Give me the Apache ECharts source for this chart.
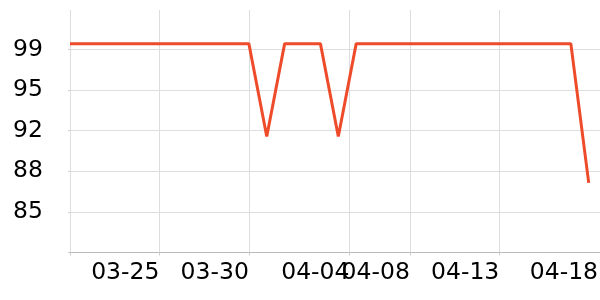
<!DOCTYPE html>
<html><head><meta charset="utf-8">
<script src="https://cdn.jsdelivr.net/npm/echarts@6/dist/echarts.min.js"></script>
<style>html,body{margin:0;padding:0;background:#fff}#c{width:600px;height:300px}</style>
</head><body><div id="c"></div>
<script>
const dates = ['2024-03-20','2024-03-21','2024-03-22','2024-03-23','2024-03-24','2024-03-25','2024-03-26','2024-03-27','2024-03-28','2024-03-29',
  '2024-03-30','2024-03-31','2024-04-01','2024-04-02','2024-04-03','2024-04-04','2024-04-05','2024-04-06','2024-04-07','2024-04-08',
  '2024-04-09','2024-04-10','2024-04-11','2024-04-12','2024-04-13','2024-04-14','2024-04-15','2024-04-16','2024-04-17','2024-04-18'];
const values = [99.5,99.5,99.5,99.5,99.5,99.5,99.5,99.5,99.5,99.5,
  99.5,91.5,99.5,99.5,99.5,91.5,99.5,99.5,99.5,99.5,
  99.5,99.5,99.5,99.5,99.5,99.5,99.5,99.5,99.5,87.5];
const xTickDates = ['2024-03-20','2024-03-25','2024-03-30','2024-04-04 15:00','2024-04-08','2024-04-13'];
const xLabelDates = ['2024-03-25','2024-03-30','2024-04-04 15:00','2024-04-08','2024-04-13','2024-04-18 12:30'];
const xRange = ['2024-03-20', '2024-04-18 15:07'];
const yTickValues = [81.5, 85, 88.5, 92, 95.5, 99];
const yLabelValues = [85, 88.5, 92, 95.5, 99];
const yRange = [81.5, 102.4];

const DAY = 86400000;
function ts(s) {
  const [d, t] = s.split(' ');
  const [Y, M, D] = d.split('-').map(Number);
  let h = 0, mi = 0;
  if (t) { [h, mi] = t.split(':').map(Number); }
  return Date.UTC(Y, M - 1, D, h, mi);
}
const t0 = ts(dates[0]);
function dayOf(s) { return (ts(s) - t0) / DAY; }
function pad(n) { return (n < 10 ? '0' : '') + n; }
function fmtDay(v) { const d = new Date(t0 + v * DAY); return pad(d.getUTCMonth() + 1) + '-' + pad(d.getUTCDate()); }

const chart = echarts.init(document.getElementById('c'), null, {renderer: 'canvas'});
const font = {fontFamily: 'DejaVu Sans', fontSize: 23.5, color: '#000'};
chart.setOption({
  animation: false,
  grid: {left: 70, right: 0, top: 10, bottom: 47.5, outerBoundsMode: 'none', containLabel: false},
  xAxis: {
    type: 'value',
    min: dayOf(xRange[0]), max: dayOf(xRange[1]),
    axisLine: {show: true, lineStyle: {color: '#bbbbbb', width: 1}},
    axisTick: {show: true, length: 3, lineStyle: {color: '#cccccc'}, customValues: xTickDates.map(dayOf)},
    splitLine: {show: true, lineStyle: {color: '#dddddd', width: 1}},
    axisLabel: Object.assign({
      customValues: xLabelDates.map(dayOf),
      align: 'right',
      margin: 8,
      hideOverlap: false,
      formatter: v => fmtDay(v)
    }, font)
  },
  yAxis: {
    type: 'value',
    min: yRange[0], max: yRange[1],
    axisLine: {show: false},
    axisTick: {show: true, length: 2, lineStyle: {color: '#cccccc'}, customValues: yTickValues},
    splitLine: {show: true, lineStyle: {color: '#dddddd', width: 1}},
    axisLabel: Object.assign({
      customValues: yLabelValues,
      margin: 27,
      formatter: v => String(Math.floor(v))
    }, font)
  },
  series: [{
    type: 'line',
    data: dates.map((d, i) => [dayOf(d), values[i]]),
    showSymbol: false,
    lineStyle: {color: '#ee4b2b', width: 3},
    itemStyle: {color: '#ee4b2b'}
  }]
});
</script></body></html>
